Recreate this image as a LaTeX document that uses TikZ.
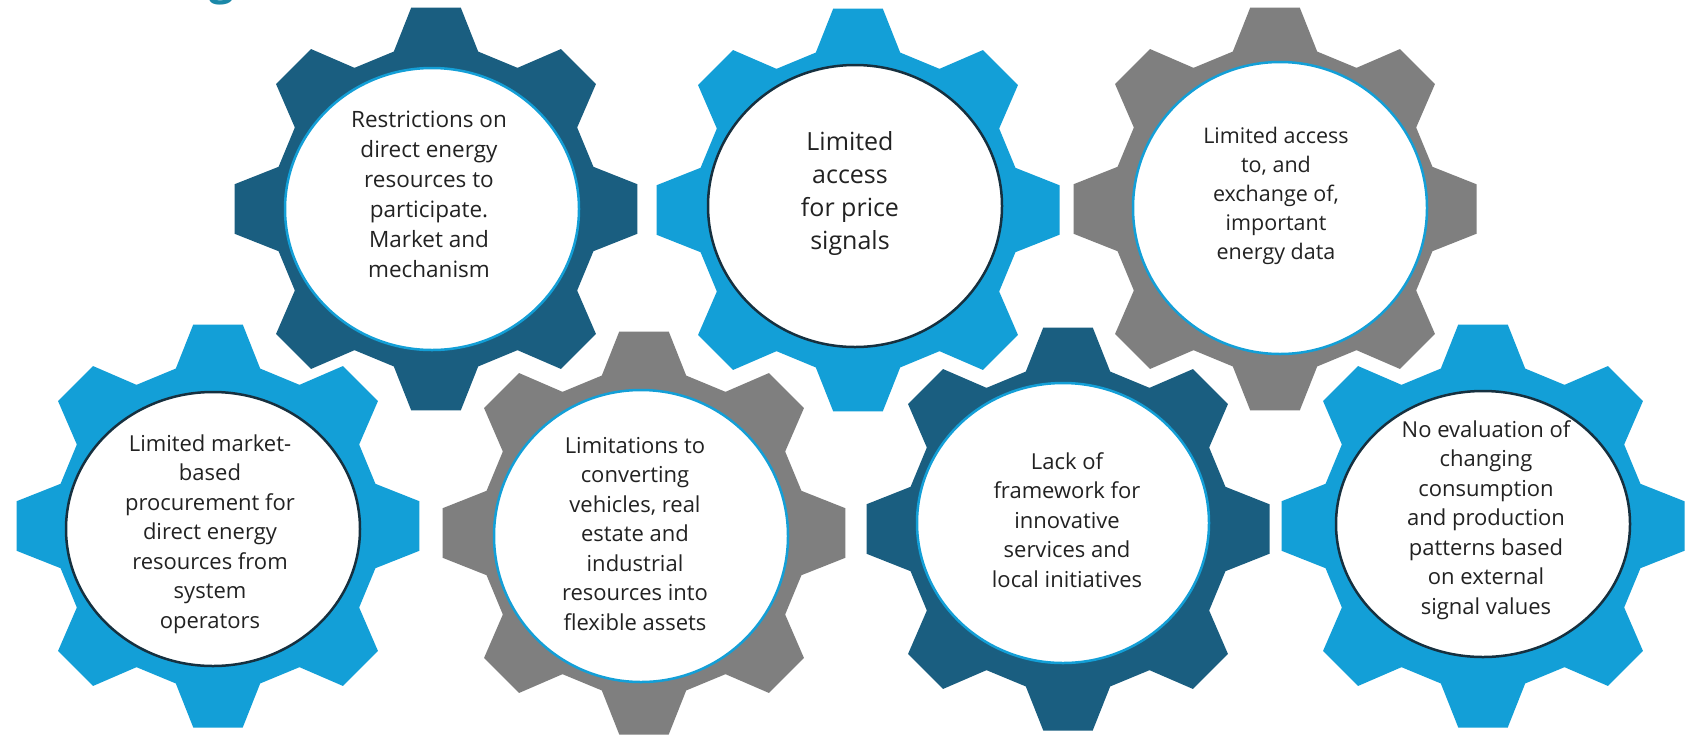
\documentclass[tikz,border=0pt]{standalone}
\usepackage{fontspec}
\setmainfont{Open Sans}
\definecolor{gearDark}{HTML}{1A5E80}
\definecolor{gearLight}{HTML}{139FD7}
\definecolor{gearGray}{HTML}{7F7F7F}
\definecolor{ringDark}{HTML}{16303F}
\definecolor{titleTeal}{HTML}{1A88A8}
\definecolor{textDark}{HTML}{222222}
\begin{document}
\begin{tikzpicture}[x=1pt,y=-1pt]
    \tikzstyle{every node}+=[inner sep=0pt]
    \tikzstyle{gear text}=[align=center, text=textDark, font=\fontsize{22}{29.5}\selectfont]
    \tikzstyle{hub}=[fill=white, line width=2.5pt]
    \fill [white] (0,0) rectangle (1692,740);
    \useasboundingbox (0,0) rectangle (1692,740);
    % cut-off title above the picture
    \node (title) at (222,5) [anchor=south, text=titleTeal, font=\fontsize{44}{44}\selectfont\bfseries] {g};
    % top row
    \fill [gearDark, shift={(436,209)}] (-15:163) -- (-7:203) -- (7:203) -- (15:163) -- (30:163) -- (38:203) -- (52:203) -- (60:163) -- (75:163) -- (83:203) -- (97:203) -- (105:163) -- (120:163) -- (128:203) -- (142:203) -- (150:163) -- (165:163) -- (173:203) -- (187:203) -- (195:163) -- (210:163) -- (218:203) -- (232:203) -- (240:163) -- (255:163) -- (263:203) -- (277:203) -- (285:163) -- (300:163) -- (308:203) -- (322:203) -- (330:163) -- cycle;
    \draw [hub, draw=gearLight] (432,209) ellipse (147 and 141);
    \node (restrict) at (429,194) [gear text, font=\fontsize{22.5}{30}\selectfont] {Restrictions on\\direct energy\\resources to\\participate.\\Market and\\mechanism};
    \fill [gearLight, shift={(858,210)}] (-15:163) -- (-7:203) -- (7:203) -- (15:163) -- (30:163) -- (38:203) -- (52:203) -- (60:163) -- (75:163) -- (83:203) -- (97:203) -- (105:163) -- (120:163) -- (128:203) -- (142:203) -- (150:163) -- (165:163) -- (173:203) -- (187:203) -- (195:163) -- (210:163) -- (218:203) -- (232:203) -- (240:163) -- (255:163) -- (263:203) -- (277:203) -- (285:163) -- (300:163) -- (308:203) -- (322:203) -- (330:163) -- cycle;
    \draw [hub, draw=ringDark] (855,206) ellipse (147 and 141);
    \node (price) at (850,193) [gear text, font=\fontsize{25}{33}\selectfont] {Limited\\access\\for price\\signals};
    \fill [gearGray, shift={(1275,209)}] (-15:163) -- (-7:203) -- (7:203) -- (15:163) -- (30:163) -- (38:203) -- (52:203) -- (60:163) -- (75:163) -- (83:203) -- (97:203) -- (105:163) -- (120:163) -- (128:203) -- (142:203) -- (150:163) -- (165:163) -- (173:203) -- (187:203) -- (195:163) -- (210:163) -- (218:203) -- (232:203) -- (240:163) -- (255:163) -- (263:203) -- (277:203) -- (285:163) -- (300:163) -- (308:203) -- (322:203) -- (330:163) -- cycle;
    \draw [hub, draw=gearLight] (1280,208) ellipse (147 and 146);
    \node (data) at (1276,196) [gear text, font=\fontsize{21.5}{29}\selectfont] {Limited access\\to, and\\exchange of,\\important\\energy data};
    % bottom row
    \fill [gearLight, shift={(218,526)}] (-15:163) -- (-7:203) -- (7:203) -- (15:163) -- (30:163) -- (38:203) -- (52:203) -- (60:163) -- (75:163) -- (83:203) -- (97:203) -- (105:163) -- (120:163) -- (128:203) -- (142:203) -- (150:163) -- (165:163) -- (173:203) -- (187:203) -- (195:163) -- (210:163) -- (218:203) -- (232:203) -- (240:163) -- (255:163) -- (263:203) -- (277:203) -- (285:163) -- (300:163) -- (308:203) -- (322:203) -- (330:163) -- cycle;
    \draw [hub, draw=ringDark] (213,529) ellipse (147 and 137);
    \node (procure) at (210,534) [gear text] {Limited market-\\based\\procurement for\\direct energy\\resources from\\system\\operators};
    \fill [gearGray, shift={(644,533)}] (-15:163) -- (-7:203) -- (7:203) -- (15:163) -- (30:163) -- (38:203) -- (52:203) -- (60:163) -- (75:163) -- (83:203) -- (97:203) -- (105:163) -- (120:163) -- (128:203) -- (142:203) -- (150:163) -- (165:163) -- (173:203) -- (187:203) -- (195:163) -- (210:163) -- (218:203) -- (232:203) -- (240:163) -- (255:163) -- (263:203) -- (277:203) -- (285:163) -- (300:163) -- (308:203) -- (322:203) -- (330:163) -- cycle;
    \draw [hub, draw=gearLight] (641,536) ellipse (147 and 146);
    \node (assets) at (635,534) [gear text] {Limitations to\\converting\\vehicles, real\\estate and\\industrial\\resources into\\flexible assets};
    \fill [gearDark, shift={(1068,529)}] (-15:163) -- (-7:203) -- (7:203) -- (15:163) -- (30:163) -- (38:203) -- (52:203) -- (60:163) -- (75:163) -- (83:203) -- (97:203) -- (105:163) -- (120:163) -- (128:203) -- (142:203) -- (150:163) -- (165:163) -- (173:203) -- (187:203) -- (195:163) -- (210:163) -- (218:203) -- (232:203) -- (240:163) -- (255:163) -- (263:203) -- (277:203) -- (285:163) -- (300:163) -- (308:203) -- (322:203) -- (330:163) -- cycle;
    \draw [hub, draw=gearLight] (1063,523) ellipse (146 and 140);
    \node (services) at (1067,520) [gear text] {Lack of\\framework for\\innovative\\services and\\local initiatives};
    \fill [gearLight, shift={(1483,526)}] (-15:163) -- (-7:203) -- (7:203) -- (15:163) -- (30:163) -- (38:203) -- (52:203) -- (60:163) -- (75:163) -- (83:203) -- (97:203) -- (105:163) -- (120:163) -- (128:203) -- (142:203) -- (150:163) -- (165:163) -- (173:203) -- (187:203) -- (195:163) -- (210:163) -- (218:203) -- (232:203) -- (240:163) -- (255:163) -- (263:203) -- (277:203) -- (285:163) -- (300:163) -- (308:203) -- (322:203) -- (330:163) -- cycle;
    \draw [hub, draw=ringDark] (1483,524) ellipse (147 and 133);
    \node (patterns) at (1486,520) [gear text] {No evaluation of\\changing\\consumption\\and production\\patterns based\\on external\\signal values};
\end{tikzpicture}
\end{document}
